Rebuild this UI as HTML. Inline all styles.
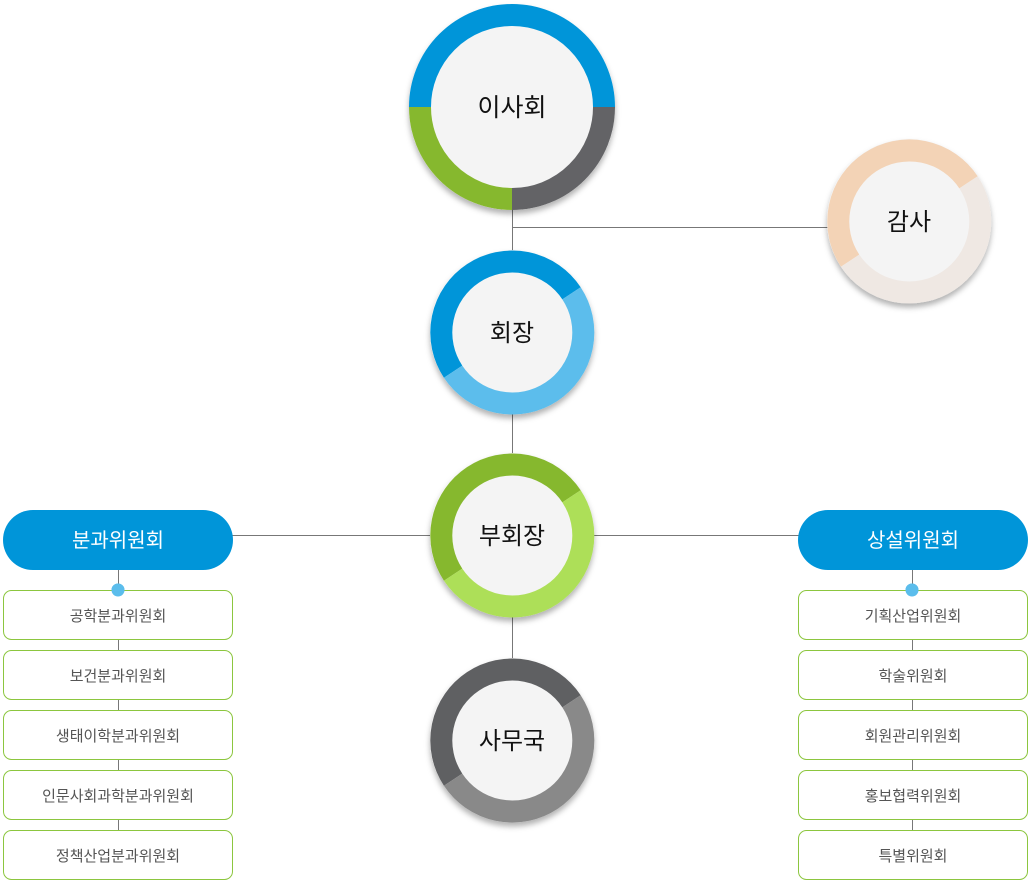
<!DOCTYPE html>
<html><head><meta charset="utf-8"><style>
html,body{margin:0;padding:0;background:#fff;}
svg text{font-family:"Liberation Sans","Noto Sans CJK KR",sans-serif;}
</style></head><body>
<svg width="1031" height="882" viewBox="0 0 1031 882" xmlns="http://www.w3.org/2000/svg">
<defs>
<filter id="sh" x="-20%" y="-20%" width="140%" height="150%">
<feDropShadow dx="0" dy="4" stdDeviation="3" flood-color="#000" flood-opacity="0.3"/>
</filter>
</defs>
<g stroke="#777" stroke-width="1" fill="none">
<line x1="512.5" y1="200" x2="512.5" y2="660"/>
<line x1="512" y1="227.5" x2="830" y2="227.5"/>
<line x1="230" y1="535.5" x2="800" y2="535.5"/>
<line x1="118.5" y1="568" x2="118.5" y2="860"/>
<line x1="912.5" y1="568" x2="912.5" y2="860"/>
</g>
<!-- 이사회 -->
<g filter="url(#sh)">
<circle cx="512" cy="107" r="103" fill="#f4f4f4"/>
<g fill="none" stroke-width="22">
<path d="M420,107 A92,92 0 0 1 604,107" stroke="#0095d9"/>
<path d="M604,107 A92,92 0 0 1 512,199" stroke="#636466"/>
<path d="M512,199 A92,92 0 0 1 420,107" stroke="#86b82e"/>
</g></g>
<text x="512" y="116" font-size="25" text-anchor="middle" fill="#111">이사회</text>
<!-- 감사 -->
<g filter="url(#sh)">
<circle cx="909" cy="221" r="82" fill="#f4f4f4"/>
<g fill="none" stroke-width="22">
<path d="M850.1,260.7 A71,71 0 1 1 968.5,182.3" stroke="#f3d3b6"/>
<path d="M968.5,182.3 A71,71 0 0 1 850.1,260.7" stroke="#efe8e3"/>
</g></g>
<text x="909" y="230" font-size="24" text-anchor="middle" fill="#111">감사</text>
<!-- 회장 -->
<g filter="url(#sh)">
<circle cx="512" cy="332" r="82" fill="#f4f4f4"/>
<g fill="none" stroke-width="22">
<path d="M453.1,371.7 A71,71 0 1 1 571.5,293.3" stroke="#0095d9"/>
<path d="M571.5,293.3 A71,71 0 0 1 453.1,371.7" stroke="#5bbdec"/>
</g></g>
<text x="512" y="341" font-size="24" text-anchor="middle" fill="#111">회장</text>
<!-- 부회장 -->
<g filter="url(#sh)">
<circle cx="512" cy="535" r="82" fill="#f4f4f4"/>
<g fill="none" stroke-width="22">
<path d="M453.1,574.7 A71,71 0 1 1 571.5,496.3" stroke="#86b82e"/>
<path d="M571.5,496.3 A71,71 0 0 1 453.1,574.7" stroke="#addf58"/>
</g></g>
<text x="512" y="544" font-size="24" text-anchor="middle" fill="#111">부회장</text>
<!-- 사무국 -->
<g filter="url(#sh)">
<circle cx="512" cy="740" r="82" fill="#f4f4f4"/>
<g fill="none" stroke-width="22">
<path d="M453.1,779.7 A71,71 0 1 1 571.5,701.3" stroke="#5f6062"/>
<path d="M571.5,701.3 A71,71 0 0 1 453.1,779.7" stroke="#898989"/>
</g></g>
<text x="512" y="749" font-size="24" text-anchor="middle" fill="#111">사무국</text>
<!-- pills -->
<rect x="3" y="510" width="230" height="60" rx="30" fill="#0095d9"/>
<text x="118" y="547" font-size="20" text-anchor="middle" fill="#fff">분과위원회</text>
<rect x="798" y="510" width="230" height="60" rx="30" fill="#0095d9"/>
<text x="913" y="547" font-size="20" text-anchor="middle" fill="#fff">상설위원회</text>
<circle cx="118" cy="590" r="6.5" fill="#5bbdec"/>
<circle cx="912" cy="590" r="6.5" fill="#5bbdec"/>
<g fill="#fff" stroke="#8cc63f" stroke-width="1">
<rect x="3.5" y="590.5" width="229" height="49" rx="8"/>
<rect x="3.5" y="650.5" width="229" height="49" rx="8"/>
<rect x="3.5" y="710.5" width="229" height="49" rx="8"/>
<rect x="3.5" y="770.5" width="229" height="49" rx="8"/>
<rect x="3.5" y="830.5" width="229" height="49" rx="8"/>
<rect x="798.5" y="590.5" width="229" height="49" rx="8"/>
<rect x="798.5" y="650.5" width="229" height="49" rx="8"/>
<rect x="798.5" y="710.5" width="229" height="49" rx="8"/>
<rect x="798.5" y="770.5" width="229" height="49" rx="8"/>
<rect x="798.5" y="830.5" width="229" height="49" rx="8"/>
</g>
<circle cx="118" cy="590" r="6.5" fill="#5bbdec"/>
<circle cx="912" cy="590" r="6.5" fill="#5bbdec"/>
<g font-size="15" fill="#555" text-anchor="middle">
<text x="118" y="621">공학분과위원회</text>
<text x="118" y="681">보건분과위원회</text>
<text x="118" y="741">생태이학분과위원회</text>
<text x="118" y="801">인문사회과학분과위원회</text>
<text x="118" y="861">정책산업분과위원회</text>
<text x="913" y="621">기획산업위원회</text>
<text x="913" y="681">학술위원회</text>
<text x="913" y="741">회원관리위원회</text>
<text x="913" y="801">홍보협력위원회</text>
<text x="913" y="861">특별위원회</text>
</g>
</svg>
</body></html>
